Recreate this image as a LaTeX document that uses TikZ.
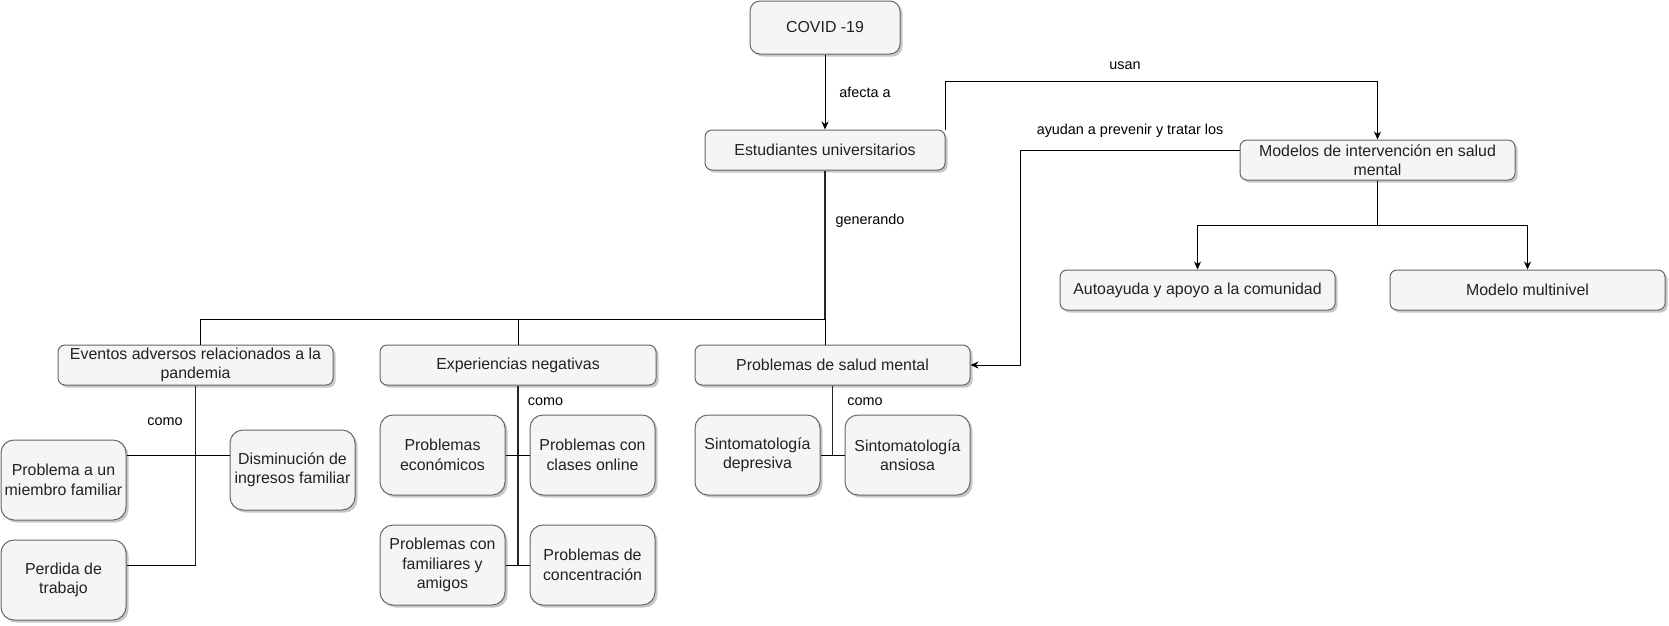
\documentclass[tikz,border=0pt]{standalone}
\usepackage{fontspec}
\setmainfont{Liberation Sans}
\usetikzlibrary{shadows,arrows.meta,calc}
\definecolor{boxfill}{HTML}{F5F5F5}
\definecolor{boxline}{HTML}{666666}
\definecolor{txt}{HTML}{222222}
\newcommand{\boxfont}{\fontsize{15.9}{19.5}\selectfont}
\newcommand{\lblfont}{\fontsize{14.4}{17}\selectfont}
\tikzset{
 box/.style={draw=boxline, line width=1pt, fill=boxfill, inner sep=0pt, align=center, font=\boxfont, text=txt,
   drop shadow={shadow xshift=2.5pt, shadow yshift=-2.5pt, fill=black, opacity=0.22}},
 shortbox/.style={box, rounded corners=7pt, minimum width=275pt, minimum height=40pt},
 tallbox/.style={box, rounded corners=13pt, minimum width=125pt, minimum height=80pt},
 conn/.style={draw=black, line width=1pt},
 trunk/.style={draw=black!85, line width=1.6pt},
 arr/.style={conn, -{Stealth[length=8pt,width=7pt,inset=2.5pt]}},
 lbl/.style={font=\lblfont, text=black, inner sep=0pt},
}
\begin{document}
\begin{tikzpicture}[x=1pt,y=-1pt]
\useasboundingbox (0,0) rectangle (1669,625);
% nodes
\node[box, rounded corners=10pt, minimum width=150pt, minimum height=53pt] (covid) at (825,27.5) {COVID -19};
\node[shortbox, minimum width=240pt] (est) at (825,150) {Estudiantes universitarios};
\node[shortbox] (mod) at (1377.5,160) {Modelos de intervención en salud\\mental};
\node[shortbox] (auto) at (1197.5,290) {Autoayuda y apoyo a la comunidad};
\node[shortbox] (multi) at (1527.5,290) {Modelo multinivel};
\node[shortbox] (even) at (195.5,365) {Eventos adversos relacionados a la\\pandemia};
\node[shortbox, minimum width=276pt] (exp) at (518,365) {Experiencias negativas};
\node[shortbox] (psm) at (832.5,365) {Problemas de salud mental};
\node[tallbox] (prob) at (63.5,480) {Problema a un\\miembro familiar};
\node[tallbox] (dism) at (292.5,470) {Disminución de\\ingresos familiar};
\node[tallbox] (perd) at (63.5,580) {Perdida de\\trabajo};
\node[tallbox] (econ) at (442.5,455) {Problemas\\económicos};
\node[tallbox] (clas) at (592.5,455) {Problemas con\\clases online};
\node[tallbox] (fam) at (442.5,565) {Problemas con\\familiares y\\amigos};
\node[tallbox] (conc) at (592.5,565) {Problemas de\\concentración};
\node[tallbox] (sdep) at (757.5,455) {Sintomatología\\depresiva};
\node[tallbox] (sans) at (907.5,455) {Sintomatología\\ansiosa};
% connectors
\draw[arr] (covid) -- (est);
\draw[arr] (est.north east) |- (mod.north |- 0,81) -- (mod.north);
\coordinate (c1) at (1020.7,0);
\draw[arr] ([yshift=10pt]mod.west) -| (c1 |- psm.east) -- (psm.east);
\draw[conn] (mod.south) -- ++(0,45) coordinate (mb);
\draw[arr] (mb) -| (auto.north);
\draw[arr] (mb) -| (multi.north);
\coordinate (bus) at (825,319);
\draw[trunk] (est.south) -- (bus);
\draw[conn] (bus) -| ([xshift=4.5pt]even.north);
\draw[conn] (bus) -| (exp.north);
\draw[conn] (bus) -- ([xshift=-7.5pt]psm.north);
% eventos children
\draw[trunk] (even.south) -- (even.south |- 0,565) coordinate (evb);
\draw[conn] (evb) -- (perd.east |- evb);
\draw[conn] (prob.east |- 0,455) -- (dism.west |- 0,455);
% experiencias children
\draw[trunk] (exp.south) -- (exp.south |- 0,565);
\draw[conn] (econ.east) -- (clas.west);
\draw[conn] (fam.east) -- (conc.west);
% salud mental children
\draw[trunk] (psm.south) -- (psm.south |- 0,455);
\draw[conn] (sdep.east) -- (sans.west);
% labels
\node[lbl] (l1) at (865,92) {afecta a};
\node[lbl] (l2) at (1125,66) {usan};
\node[lbl] (l3) at (1130,131) {ayudan a prevenir y tratar los};
\node[lbl] (l4) at (870,221) {generando};
\node[lbl] (l5) at (165,422) {como};
\node[lbl] (l6) at (545.5,402) {como};
\node[lbl] (l7) at (865,402) {como};
\end{tikzpicture}
\end{document}
